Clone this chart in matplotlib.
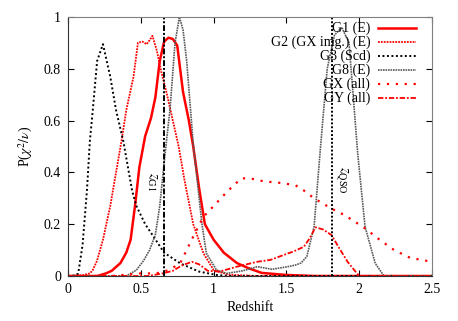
import matplotlib
matplotlib.use("Agg")
import matplotlib.pyplot as plt

plt.rcParams['font.family'] = ['Liberation Serif', 'DejaVu Serif']
plt.rcParams['mathtext.fontset'] = 'stix'
plt.rcParams['font.size'] = 10

# redshift grids and P(chi^2/nu)
g1_z = [0, 0.2, 0.26, 0.3, 0.36, 0.4, 0.43, 0.46, 0.49, 0.53, 0.57, 0.6, 0.63, 0.66,
        0.69, 0.72, 0.75, 0.79, 0.83, 0.86, 0.9, 0.94, 1.0, 1.07, 1.16, 1.24, 1.33,
        1.5, 1.7, 2.5]
g1_p = [0, 0, 0.01, 0.02, 0.05, 0.09, 0.14, 0.27, 0.42, 0.54, 0.61, 0.69, 0.83, 0.905,
        0.92, 0.915, 0.89, 0.71, 0.6, 0.5, 0.34, 0.2, 0.14, 0.09, 0.05, 0.03, 0.012,
        0.004, 0, 0]

g2_z = [0, 0.1, 0.15, 0.17, 0.2, 0.24, 0.29, 0.33, 0.37, 0.4, 0.45, 0.48, 0.51, 0.54,
        0.56, 0.58, 0.61, 0.64, 0.68, 0.72, 0.76, 0.8, 0.86, 0.93, 1.0, 1.1, 1.3, 2.5]
g2_p = [0, 0.003, 0.01, 0.023, 0.06, 0.14, 0.27, 0.4, 0.53, 0.64, 0.77, 0.9, 0.905,
        0.895, 0.91, 0.927, 0.87, 0.79, 0.7, 0.6, 0.5, 0.37, 0.2, 0.088, 0.023, 0.005,
        0, 0]

g3_z = [0, 0.05, 0.07, 0.1, 0.13, 0.15, 0.17, 0.2, 0.24, 0.29, 0.33, 0.38, 0.44, 0.47,
        0.53, 0.59, 0.66, 0.77, 0.9, 1.02, 1.1, 2.5]
g3_p = [0, 0.002, 0.01, 0.12, 0.33, 0.52, 0.64, 0.83, 0.895, 0.77, 0.64, 0.52, 0.33,
        0.27, 0.2, 0.15, 0.09, 0.049, 0.017, 0.004, 0, 0]

g8_z = [0, 0.4, 0.47, 0.52, 0.56, 0.6, 0.63, 0.67, 0.7, 0.735, 0.765, 0.79, 0.815, 0.86,
        0.92, 0.95, 1.02, 1.09, 1.2, 1.3, 1.4, 1.5, 1.56, 1.6, 1.64, 1.69, 1.73, 1.78,
        1.83, 1.88, 1.93, 1.99, 2.04, 2.11, 2.17, 2.5]
g8_p = [0, 0, 0.023, 0.06, 0.1, 0.16, 0.27, 0.49, 0.64, 0.9, 1.0, 0.95, 0.83, 0.51,
        0.2, 0.088, 0.023, 0.01, 0.02, 0.036, 0.026, 0.035, 0.042, 0.05, 0.075, 0.19,
        0.47, 0.8, 0.93, 0.96, 0.9, 0.47, 0.19, 0.049, 0, 0]

gx_z = [0, 0.3, 0.4, 0.5, 0.6, 0.65, 0.7, 0.77, 0.86, 0.93, 1.0, 1.1, 1.19, 1.25, 1.35,
        1.45, 1.56, 1.62, 1.69, 1.75, 1.81, 1.9, 2.04, 2.14, 2.24, 2.35, 2.5]
gx_p = [0, 0, 0.005, 0.01, 0.01, 0.015, 0.025, 0.049, 0.152, 0.229, 0.27, 0.33, 0.377,
        0.377, 0.365, 0.36, 0.351, 0.33, 0.3, 0.28, 0.26, 0.235, 0.184, 0.14, 0.1,
        0.07, 0.055]

gy_z = [0, 0.55, 0.65, 0.72, 0.78, 0.85, 0.9, 0.96, 1.04, 1.16, 1.3, 1.39, 1.48, 1.55,
        1.62, 1.66, 1.7, 1.75, 1.81, 1.86, 1.92, 1.97, 2.0, 2.5]
gy_p = [0, 0, 0.01, 0.02, 0.04, 0.055, 0.045, 0.02, 0.017, 0.036, 0.055, 0.062, 0.081,
        0.095, 0.113, 0.146, 0.188, 0.18, 0.158, 0.11, 0.055, 0.02, 0, 0]

z_g1 = 0.66
z_qso = 1.81

labels = ["G1 (E)", "G2 (GX img.) (E)", "G3 (Scd)", "G8 (E)", "GX (all)", "GY (all)"]

fig = plt.figure(figsize=(4.58, 3.21), dpi=100)
ax = fig.add_axes([0.1485, 0.1402, 0.7948, 0.8069])

styles = [dict(color='red', lw=1.8, ls='-'),
          dict(color='red', lw=1.3, ls=(0, (1, 0.6))),
          dict(color='black', lw=1.4, ls=(0, (1, 1.3))),
          dict(color='0.35', lw=1.2, ls=(0, (1, 0.5))),
          dict(color='red', lw=1.6, ls=(0, (1, 3))),
          dict(color='red', lw=1.3, ls=(0, (3, 1, 1, 1)))]
series = [(g1_z, g1_p), (g2_z, g2_p), (g3_z, g3_p), (g8_z, g8_p), (gx_z, gx_p), (gy_z, gy_p)]

for (z, p), st in zip(series, styles):
    ax.plot(z, p, **st)

ax.axvline(z_g1, color='black', lw=1.4, ls=(0, (3, 1, 1, 1)))
ax.axvline(z_qso, color='black', lw=1.4, ls=(0, (1, 1)))
ax.text(z_g1 - 0.085, 0.363, r'$z_{\rm G1}$', rotation=-90, ha='center', va='center', fontsize=10.5)
ax.text(z_qso + 0.065, 0.37, r'$z_{\rm QSO}$', rotation=-90, ha='center', va='center', fontsize=10.5)

# gnuplot style key: text right aligned, sample line on the right
y0 = 0.956
dy = 0.054
for i, (lab, st) in enumerate(zip(labels, styles)):
    yy = y0 - i * dy
    ax.text(0.830, yy, lab, transform=ax.transAxes, ha='right', va='center', fontsize=10)
    ax.plot([0.852, 0.956], [yy, yy], transform=ax.transAxes, **st)

ax.set_xlim(0, 2.5)
ax.set_ylim(0, 1)
ax.set_xticks([0, 0.5, 1, 1.5, 2, 2.5])
ax.set_xticklabels(["0", "0.5", "1", "1.5", "2", "2.5"])
ax.set_yticks([0, 0.2, 0.4, 0.6, 0.8, 1])
ax.set_yticklabels(["0", "0.2", "0.4", "0.6", "0.8", "1"])
ax.tick_params(direction='in', top=True, right=True, length=4, width=0.8, labelsize=10, pad=5)
for s in ['top', 'right']:
    ax.spines[s].set_color('0.5')
for s in ['left', 'bottom']:
    ax.spines[s].set_color('0.2')

ax.set_xlabel("Redshift", fontsize=10, labelpad=4)
ax.set_ylabel(r"P($\chi^2/\nu$)", fontsize=10, labelpad=6)

fig.savefig("out.png", dpi=100)
